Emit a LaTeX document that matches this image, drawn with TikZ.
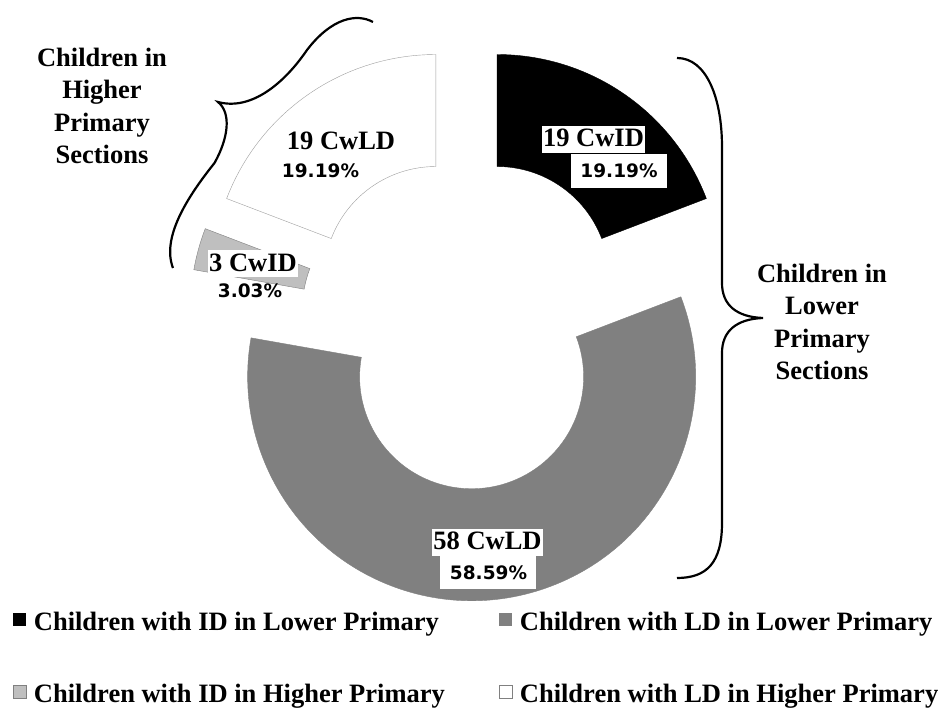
\documentclass[tikz,border=0pt]{standalone}
\usepackage{fontspec}
\setmainfont{Liberation Serif}
\newfontfamily\pctfont{DejaVu Sans}
\usetikzlibrary{positioning}

\begin{document}
\begin{tikzpicture}[x=1pt, y=1pt,
 lbl/.style = {fill=white, font=\fontsize{26.5}{31.5}\selectfont\bfseries, text height=18pt, text depth=3pt, inner xsep=1.5pt, inner ysep=3pt},
 pct/.style = {font=\fontsize{18.5}{22}\selectfont\pctfont\bfseries, text height=13.5pt, text depth=0pt, inner sep=0pt},
 pctbox/.style = {pct, fill=white, minimum width=96pt, minimum height=34pt},
 side/.style = {font=\fontsize{26.5}{32.5}\selectfont\bfseries, align=center},
 key/.style = {minimum size=13pt, inner sep=0pt},
 keytext/.style = {font=\fontsize{26.5}{31.5}\selectfont\bfseries, inner sep=0pt, yshift=-4pt},
 curly/.style = {line width=2.2pt}]
\useasboundingbox (-466.5,-386) rectangle (479.5,323);

\filldraw[fill=black, draw=black, shift={(55.46:54)}] (90:224) arc[start angle=90, end angle=20.92, radius=224] -- (20.92:112) arc[start angle=20.92, end angle=90, radius=112] -- cycle;
\filldraw[fill=black!50, draw=black!50, shift={(-84.54:54)}] (20.92:224) arc[start angle=20.92, end angle=-190, radius=224] -- (-190:112) arc[start angle=-190, end angle=20.92, radius=112] -- cycle;
\filldraw[fill=black!25, draw=black!50, thin, shift={(164.54:54)}] (170:224) arc[start angle=170, end angle=159.09, radius=224] -- (159.09:112) arc[start angle=159.09, end angle=170, radius=112] -- cycle;
\filldraw[fill=white, draw=black!38, thin, shift={(124.54:54)}] (159.09:224) arc[start angle=159.09, end angle=90, radius=224] -- (90:112) arc[start angle=90, end angle=159.09, radius=112] -- cycle;

\node[lbl] (n1) at (127,183.5) {19 CwID};
\node[pctbox] (p1) at (152.5,152) {19.19\%};
\node[lbl] (n2) at (21,-219.5) {58 CwLD};
\node[pctbox] (p2) at (22,-249.5) {58.59\%};
\node[lbl] (n3) at (-213.5,59) {3 CwID};
\node[pct] (p3) at (-216.5,32.5) {3.03\%};
\node[lbl] (n4) at (-125.5,180.5) {19 CwLD};
\node[pct] (p4) at (-146,152.5) {19.19\%};

\draw[curly] (210.5,265) .. controls (240,265) and (255.5,225) .. (255.5,176) -- (255.5,40) .. controls (255.5,18) and (270,6) .. (296.5,5) .. controls (270,4) and (255.5,-8) .. (255.5,-30) -- (255.5,-200) .. controls (255.5,-240) and (240,-255) .. (210.5,-255);
\draw[curly] (-93.5,301) .. controls (-110,310) and (-135,305) .. (-159.5,273) .. controls (-182,240) and (-215,212) .. (-248.5,221) .. controls (-235,210) and (-238,185) .. (-252,160) .. controls (-280,125) and (-305,85) .. (-293.5,55);

\node[side] (lower) at (355.5,1) {Children in\\Lower\\Primary\\Sections};
\node[side] (higher) at (-364.5,217) {Children in\\Higher\\Primary\\Sections};

\node[key, fill=black] (k1) at (-446.5,-297) {};
\node[keytext, right=7pt of k1] (t1) {Children with ID in Lower Primary};
\node[key, fill=black!50] (k2) at (39.5,-297) {};
\node[keytext, right=7pt of k2] (t2) {Children with LD in Lower Primary};
\node[key, fill=black!25, draw=black!50, thin] (k3) at (-446.5,-369) {};
\node[keytext, right=7pt of k3] (t3) {Children with ID in Higher Primary};
\node[key, fill=white, draw=black!50, thin] (k4) at (39.5,-369) {};
\node[keytext, right=7pt of k4] (t4) {Children with LD in Higher Primary};
\end{tikzpicture}
\end{document}
